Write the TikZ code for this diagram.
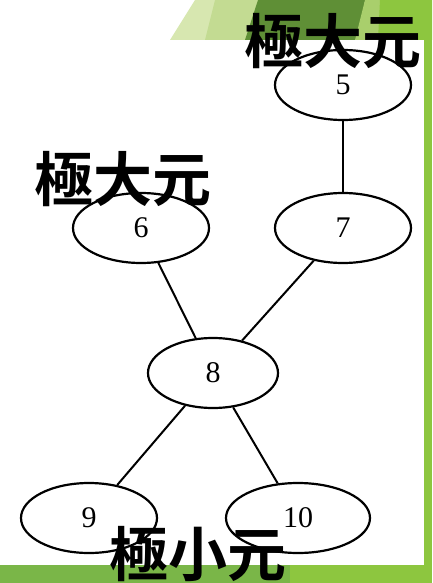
\documentclass[tikz,border=0pt]{standalone}
\usepackage{fontspec}
\usetikzlibrary{shapes.geometric}
\newfontfamily\cjk{Noto Sans CJK JP}[BoldFont={Noto Sans CJK JP Bold}]
\setmainfont{Liberation Serif}
\definecolor{gbright}{HTML}{8DC63F}
\definecolor{gbot}{HTML}{7AB648}
\definecolor{gdark}{HTML}{5F8F36}
\definecolor{glight}{HTML}{D7E7B0}
\definecolor{gmid}{HTML}{C3DB92}
\definecolor{glight2}{HTML}{A9CF6C}
\begin{document}
\begin{tikzpicture}[x=1pt,y=-1pt,
  elem/.style={draw,ellipse,line width=2.2pt,minimum width=136pt,minimum height=70pt,inner sep=0pt,font=\fontsize{30}{30}\selectfont},
  lbl/.style={font=\cjk\bfseries\fontsize{59}{59}\selectfont,inner sep=0pt},
  edge/.style={line width=2pt}]
\useasboundingbox (0,0) rectangle (432,583);
\fill[white] (0,0) rectangle (432,583);
% top decoration
\fill[glight] (170,40) -- (195,0) -- (260,0) -- (245,40) -- cycle;
\fill[gmid] (205,40) -- (215,0) -- (300,0) -- (270,40) -- cycle;
\fill[gdark] (245,40) -- (258,0) -- (365,0) -- (360,40) -- cycle;
\fill[glight2] (355,40) -- (365,0) -- (385,0) -- (380,40) -- cycle;
\fill[gbright] (378,40) -- (380,0) -- (432,0) -- (432,40) -- cycle;
% right band
\fill[gbright] (424,0) rectangle (432,583);
% bottom band
\fill[gbot] (0,565) rectangle (432,583);
\fill[gbright] (290,565) rectangle (432,583);
% nodes
\node[elem] (n5) at (343,85) {5};
\node[elem] (n7) at (343,228) {7};
\node[elem] (n6) at (141,228) {6};
\node[elem,minimum width=130pt] (n8) at (213,373) {8};
\node[elem] (n9) at (89,518) {9};
\node[elem,minimum width=144pt] (n10) at (298,518) {10};
\draw[edge] (n5) -- (n7);
\draw[edge] (n6) -- (n8);
\draw[edge] (n7) -- (n8);
\draw[edge] (n8) -- (n9);
\draw[edge] (n8) -- (n10);
% labels
\node[lbl] (l1) at (333,41) {極大元};
\node[lbl] (l2) at (123,179) {極大元};
\node[lbl] (l3) at (198,554) {極小元};
\end{tikzpicture}
\end{document}
